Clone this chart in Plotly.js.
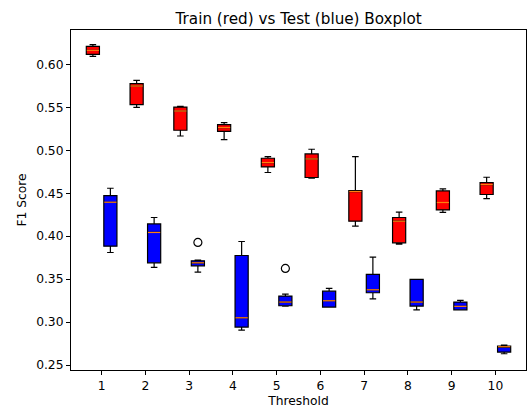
<!DOCTYPE html>
<html>
<head>
<meta charset="utf-8">
<script src="https://cdn.plot.ly/plotly-3.0.1.min.js"></script>
<style>html,body{margin:0;padding:0;background:#fff;}#chart{width:527px;height:414px;}</style>
</head>
<body>
<div id="chart"></div>
<script>
var thresholds = [1, 2, 3, 4, 5, 6, 7, 8, 9, 10];

// Train (red)
var trainLow    = [0.6093, 0.5500, 0.5166, 0.5124, 0.4741, 0.4674, 0.4116, 0.3907, 0.4276, 0.4438];
var trainQ1     = [0.6116, 0.5531, 0.5233, 0.5221, 0.4806, 0.4683, 0.4174, 0.3922, 0.4306, 0.4485];
var trainMedian = [0.6163, 0.5748, 0.5457, 0.5264, 0.4857, 0.4899, 0.4520, 0.4174, 0.4392, 0.4601];
var trainQ3     = [0.6209, 0.5776, 0.5503, 0.5299, 0.4907, 0.4957, 0.4531, 0.4217, 0.4527, 0.4624];
var trainHigh   = [0.6229, 0.5814, 0.5512, 0.5322, 0.4927, 0.5012, 0.4927, 0.4279, 0.4550, 0.4686];

// Test (blue)
var testLow    = [0.3810, 0.3636, 0.3581, 0.2907, 0.3186, 0.3174, 0.3271, 0.3143, 0.3143, 0.2631];
var testQ1     = [0.3884, 0.3690, 0.3655, 0.2942, 0.3190, 0.3174, 0.3341, 0.3186, 0.3143, 0.2651];
var testMedian = [0.4395, 0.4043, 0.3690, 0.3050, 0.3233, 0.3248, 0.3376, 0.3233, 0.3183, 0.2713];
var testQ3     = [0.4473, 0.4143, 0.3713, 0.3775, 0.3302, 0.3360, 0.3555, 0.3497, 0.3233, 0.2721];
var testHigh   = [0.4558, 0.4217, 0.3721, 0.3938, 0.3326, 0.3392, 0.3756, 0.3497, 0.3252, 0.2733];

// Outliers (test)
var outlierThreshold = [3, 5];
var outlierValue     = [0.3927, 0.3624];

var OFFSET = 0.2, WIDTH = 0.3;
var trainPos = thresholds.map(function(t){return t - OFFSET;});
var testPos  = thresholds.map(function(t){return t + OFFSET;});

function boxTrace(pos, lo, q1, med, q3, hi, fill) {
  return {
    type: 'box', x: pos, lowerfence: lo, q1: q1, median: med, q3: q3, upperfence: hi,
    width: WIDTH, whiskerwidth: 0.5, fillcolor: fill,
    line: {color: '#000000', width: 1.2}, boxpoints: false,
    hoverinfo: 'skip', showlegend: false
  };
}
function medianTrace(pos, med) {
  var xs = [], ys = [];
  for (var i = 0; i < pos.length; i++) {
    xs.push(pos[i] - WIDTH/2 + 0.01, pos[i] + WIDTH/2 - 0.01, null);
    ys.push(med[i], med[i], null);
  }
  return {type: 'scatter', mode: 'lines', x: xs, y: ys,
    line: {color: '#ff7f0e', width: 1.2}, hoverinfo: 'skip', showlegend: false};
}

var data = [
  boxTrace(trainPos, trainLow, trainQ1, trainMedian, trainQ3, trainHigh, '#ff0000'),
  boxTrace(testPos, testLow, testQ1, testMedian, testQ3, testHigh, '#0000ff'),
  medianTrace(trainPos, trainMedian),
  medianTrace(testPos, testMedian),
  {type: 'scatter', mode: 'markers',
   x: outlierThreshold.map(function(t){return t + OFFSET;}), y: outlierValue,
   marker: {symbol: 'circle-open', size: 8, color: '#000000', line: {width: 1.2}},
   hoverinfo: 'skip', showlegend: false}
];

var fam = 'DejaVu Sans, sans-serif';
var layout = {
  width: 527, height: 414,
  margin: {l: 71, r: 1, t: 30, b: 44},
  paper_bgcolor: '#ffffff', plot_bgcolor: '#ffffff',
  font: {family: fam, size: 12, color: '#000000'},
  title: {text: 'Train (red) vs Test (blue) Boxplot', x: 0.5667, xanchor: 'center', y: 0.955, yanchor: 'middle',
          font: {family: fam, size: 15.2, color: '#000000'}},
  xaxis: {range: [0.3, 10.7], tickmode: 'array', tickvals: thresholds, ticktext: thresholds.map(String),
          showgrid: false, zeroline: false, showline: true, mirror: true, linecolor: '#000000', linewidth: 1,
          ticks: 'outside', ticklen: 4, tickcolor: '#000000', tickfont: {size: 12.3, color: '#000000'},
          title: {text: 'Threshold', font: {size: 12.3, color: '#000000'}, standoff: 4}},
  yaxis: {range: [0.2442, 0.640], tickmode: 'array',
          tickvals: [0.25, 0.30, 0.35, 0.40, 0.45, 0.50, 0.55, 0.60],
          ticktext: ['0.25', '0.30', '0.35', '0.40', '0.45', '0.50', '0.55', '0.60'],
          showgrid: false, zeroline: false, showline: true, mirror: true, linecolor: '#000000', linewidth: 1,
          ticks: 'outside', ticklen: 4, tickcolor: '#000000', tickfont: {size: 12.3, color: '#000000'},
          title: {text: 'F1 Score', font: {size: 12.3, color: '#000000'}, standoff: 6}},
  boxmode: 'overlay'
};

Plotly.newPlot('chart', data, layout, {displayModeBar: false, staticPlot: true});
</script>
</body>
</html>
